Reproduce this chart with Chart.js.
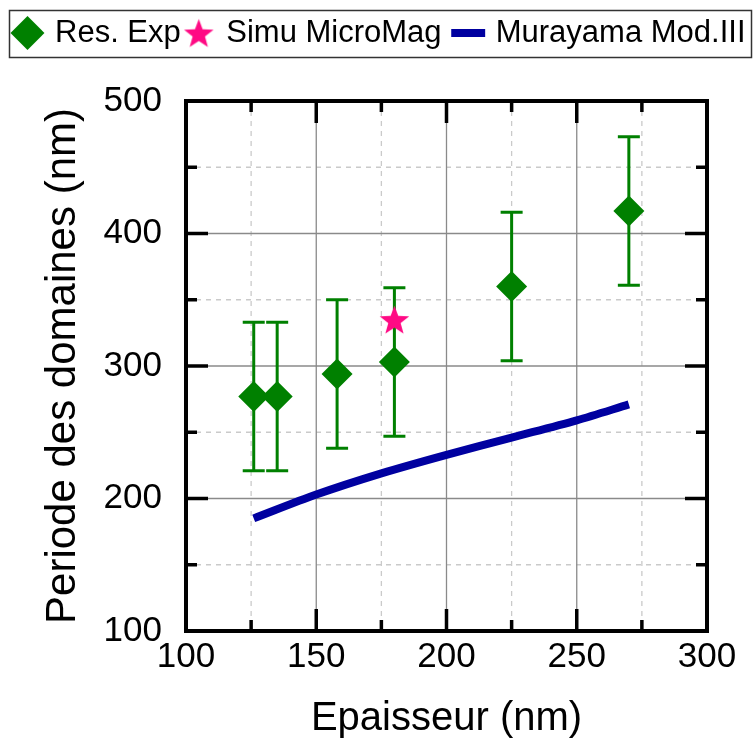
<!DOCTYPE html>
<html>
<head>
<meta charset="utf-8">
<script src="https://cdn.jsdelivr.net/npm/chart.js@4.4.0/dist/chart.umd.min.js"></script>
<style>
  html, body { margin: 0; padding: 0; background: #fff; }
</style>
</head>
<body>
<canvas id="chart" width="753" height="743"></canvas>
<script>
// data
var expX = [126, 135, 158, 180, 225, 270];
var expY = [277, 277, 294, 303, 360, 417];
var expErr = [56, 56, 56, 56, 56, 56];
var simuX = [180];
var simuY = [335];
var muraX = [126, 150, 175, 200, 225, 250, 270];
var muraY = [185, 203, 219, 233, 246, 259, 271];
var xMajor = [150, 200, 250];
var xMinor = [125, 175, 225, 275];
var yMajor = [200, 300, 400];
var yMinor = [150, 250, 350, 450];

var FONT = "'Liberation Sans', Arial, sans-serif";

function makeStar(size, color) {
  var c = document.createElement('canvas');
  c.width = size; c.height = size;
  var g = c.getContext('2d');
  var cx = size / 2, cy = size / 2 + size * 0.05, R = size / 2, r = R * 0.42;
  g.beginPath();
  for (var i = 0; i < 10; i++) {
    var a = -Math.PI / 2 + i * Math.PI / 5;
    var rr = i % 2 ? r : R;
    g.lineTo(cx + rr * Math.cos(a), cy + rr * Math.sin(a));
  }
  g.closePath();
  g.fillStyle = color;
  g.fill();
  return c;
}
var starImg = makeStar(31, '#ff0a84');

function pts(xs, ys) {
  return xs.map(function (x, i) { return {x: x, y: ys[i]}; });
}

// grid lines (major solid, minor dashed) under the data
var gridPlugin = {
  id: 'gridPlugin',
  beforeDatasetsDraw: function (chart) {
    var ctx = chart.ctx, a = chart.chartArea, xs = chart.scales.x, ys = chart.scales.y;
    ctx.save();
    ctx.lineWidth = 1.3;
    ctx.strokeStyle = '#cacaca';
    ctx.setLineDash([5, 5]);
    ctx.beginPath();
    xMinor.forEach(function (v) { var p = xs.getPixelForValue(v); ctx.moveTo(p, a.top); ctx.lineTo(p, a.bottom); });
    yMinor.forEach(function (v) { var p = ys.getPixelForValue(v); ctx.moveTo(a.left, p); ctx.lineTo(a.right, p); });
    ctx.stroke();
    ctx.setLineDash([]);
    ctx.strokeStyle = '#8a8a8a';
    ctx.beginPath();
    xMajor.forEach(function (v) { var p = xs.getPixelForValue(v); ctx.moveTo(p, a.top); ctx.lineTo(p, a.bottom); });
    yMajor.forEach(function (v) { var p = ys.getPixelForValue(v); ctx.moveTo(a.left, p); ctx.lineTo(a.right, p); });
    ctx.stroke();
    ctx.restore();
  }
};

var errorBars = {
  id: 'errorBars',
  beforeDatasetsDraw: function (chart) {
    var ctx = chart.ctx, xs = chart.scales.x, ys = chart.scales.y;
    ctx.save();
    ctx.strokeStyle = '#008000';
    ctx.lineWidth = 3;
    expX.forEach(function (x, i) {
      var px = xs.getPixelForValue(x);
      var top = ys.getPixelForValue(expY[i] + expErr[i]);
      var bot = ys.getPixelForValue(expY[i] - expErr[i]);
      ctx.beginPath();
      ctx.moveTo(px, top); ctx.lineTo(px, bot);
      ctx.moveTo(px - 11, top); ctx.lineTo(px + 11, top);
      ctx.moveTo(px - 11, bot); ctx.lineTo(px + 11, bot);
      ctx.stroke();
    });
    ctx.restore();
  }
};

// thick frame with inward ticks on all four sides, plus legend box
var framePlugin = {
  id: 'framePlugin',
  afterDatasetsDraw: function (chart) {
    var ctx = chart.ctx, a = chart.chartArea, xs = chart.scales.x, ys = chart.scales.y;
    ctx.save();
    ctx.strokeStyle = '#000';
    ctx.lineWidth = 3.5;
    ctx.beginPath();
    function xt(v, len) {
      var p = xs.getPixelForValue(v);
      ctx.moveTo(p, a.bottom); ctx.lineTo(p, a.bottom - len);
      ctx.moveTo(p, a.top); ctx.lineTo(p, a.top + len);
    }
    function yt(v, len) {
      var p = ys.getPixelForValue(v);
      ctx.moveTo(a.left, p); ctx.lineTo(a.left + len, p);
      ctx.moveTo(a.right, p); ctx.lineTo(a.right - len, p);
    }
    xMajor.forEach(function (v) { xt(v, 22); });
    xMinor.forEach(function (v) { xt(v, 11); });
    yMajor.forEach(function (v) { yt(v, 22); });
    yMinor.forEach(function (v) { yt(v, 11); });
    ctx.stroke();
    ctx.lineWidth = 4;
    ctx.strokeRect(a.left, a.top, a.right - a.left, a.bottom - a.top);
    ctx.restore();
  },
  afterDraw: function (chart) {
    var ctx = chart.ctx;
    ctx.save();
    ctx.strokeStyle = '#333';
    ctx.lineWidth = 1.5;
    ctx.strokeRect(9.5, 10.5, 742, 47);
    ctx.restore();
  }
};

new Chart(document.getElementById('chart'), {
  type: 'scatter',
  data: {
    datasets: [
      {
        label: 'Res. Exp',
        data: pts(expX, expY),
        pointStyle: 'rectRot',
        pointRadius: 15.5,
        pointHoverRadius: 15.5,
        backgroundColor: '#008000',
        borderColor: '#008000',
        borderWidth: 0
      },
      {
        label: 'Simu MicroMag',
        data: pts(simuX, simuY),
        pointStyle: starImg,
        backgroundColor: '#ff0a84',
        borderColor: '#ff0a84',
        borderWidth: 0
      },
      {
        label: 'Murayama Mod.III',
        data: pts(muraX, muraY),
        showLine: true,
        borderColor: '#0000a0',
        backgroundColor: '#0000a0',
        borderWidth: 8,
        pointRadius: 0,
        pointHoverRadius: 0,
        pointBorderWidth: 8,
        pointStyle: 'line',
        tension: 0.3,
        fill: false
      }
    ]
  },
  options: {
    responsive: false,
    animation: false,
    events: [],
    layout: { padding: { top: 11.5, left: 8, right: 0, bottom: 0 } },
    plugins: {
      legend: {
        position: 'top',
        weight: 3000,
        labels: {
          usePointStyle: true,
          boxWidth: 24,
          boxHeight: 24,
          padding: 6,
          color: '#000',
          font: { family: FONT, size: 31 },
          generateLabels: function (chart) {
            var items = Chart.defaults.plugins.legend.labels.generateLabels(chart);
            items[1].text = items[1].text + ' ';
            return items;
          }
        }
      },
      title: { display: true, text: '', padding: { top: 32.5, bottom: 0 }, font: { size: 10, lineHeight: 1 } },
      tooltip: { enabled: false }
    },
    scales: {
      x: {
        type: 'linear',
        position: 'bottom',
        min: 100,
        max: 300,
        ticks: { stepSize: 50, autoSkip: false, maxRotation: 0, padding: 5, color: '#000', font: { family: FONT, size: 35 } },
        grid: { display: false, drawTicks: false },
        border: { display: false },
        title: { display: true, text: 'Epaisseur (nm)', color: '#000', font: { family: FONT, size: 40 }, padding: { top: 0, bottom: 0 } },
        afterFit: function (s) { s.height = 112; }
      },
      y: {
        type: 'linear',
        position: 'left',
        min: 100,
        max: 500,
        ticks: { stepSize: 100, autoSkip: false, padding: 24, color: '#000', font: { family: FONT, size: 35 } },
        grid: { display: false, drawTicks: false },
        border: { display: false },
        title: { display: true, text: 'Periode des domaines (nm)', color: '#000', font: { family: FONT, size: 42 }, padding: { top: 30, bottom: 0 } },
        afterFit: function (s) { s.width = 178; }
      },
      y2: {
        type: 'linear',
        position: 'right',
        display: true,
        ticks: { display: false },
        grid: { display: false, drawTicks: false },
        border: { display: false },
        afterFit: function (s) { s.width = 46; }
      }
    }
  },
  plugins: [gridPlugin, errorBars, framePlugin]
});
</script>
</body>
</html>
